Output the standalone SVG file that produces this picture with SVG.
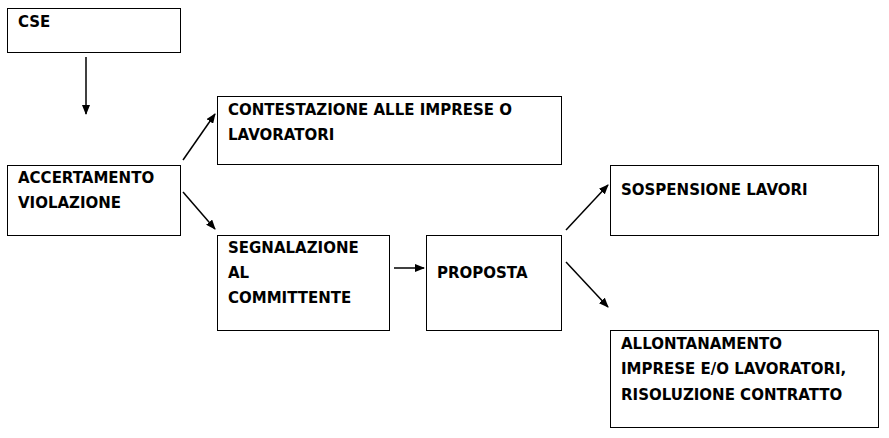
<svg xmlns="http://www.w3.org/2000/svg" width="889" height="438" viewBox="0 0 889 438">
<style>
rect{fill:#fff;stroke:#000;stroke-width:1}
text{font-family:"DejaVu Sans",sans-serif;font-weight:bold;font-size:15px;fill:#000}
line{stroke:#000;stroke-width:1.5;marker-end:url(#a)}
</style>
<defs><marker id="a" markerWidth="10" markerHeight="8" refX="9" refY="4" orient="auto" markerUnits="userSpaceOnUse"><path d="M0,0L10,4L0,8z"/></marker></defs>
<rect width="889" height="438" style="stroke:none"/>
<g id="cse"><rect x="7.5" y="8.5" width="173" height="44"/><text x="18" y="27">CSE</text></g>
<g id="accertamento"><rect x="7.5" y="165.5" width="173" height="70"/><text x="18" y="183">ACCERTAMENTO</text><text x="18" y="208">VIOLAZIONE</text></g>
<g id="contestazione"><rect x="217.5" y="96.5" width="344" height="68"/><text x="228" y="115">CONTESTAZIONE ALLE IMPRESE O</text><text x="228" y="140">LAVORATORI</text></g>
<g id="segnalazione"><rect x="217.5" y="235.5" width="172" height="95"/><text x="228" y="253">SEGNALAZIONE</text><text x="228" y="278">AL</text><text x="228" y="303">COMMITTENTE</text></g>
<g id="proposta"><rect x="426.5" y="235.5" width="135" height="95"/><text x="437" y="278">PROPOSTA</text></g>
<g id="sospensione"><rect x="610.5" y="165.5" width="268" height="70"/><text x="621" y="195">SOSPENSIONE LAVORI</text></g>
<g id="allontanamento"><rect x="610.5" y="330.5" width="268" height="97"/><text x="621" y="349">ALLONTANAMENTO</text><text x="621" y="374">IMPRESE E/O LAVORATORI,</text><text x="621" y="400">RISOLUZIONE CONTRATTO</text></g>
<g id="connectors">
<line x1="86" y1="57" x2="86" y2="114"/>
<line x1="183" y1="160" x2="215" y2="114"/>
<line x1="183" y1="192" x2="215" y2="229"/>
<line x1="394" y1="268" x2="424" y2="268"/>
<line x1="566" y1="230" x2="608" y2="185"/>
<line x1="566" y1="262" x2="608" y2="307"/>
</g>
</svg>
